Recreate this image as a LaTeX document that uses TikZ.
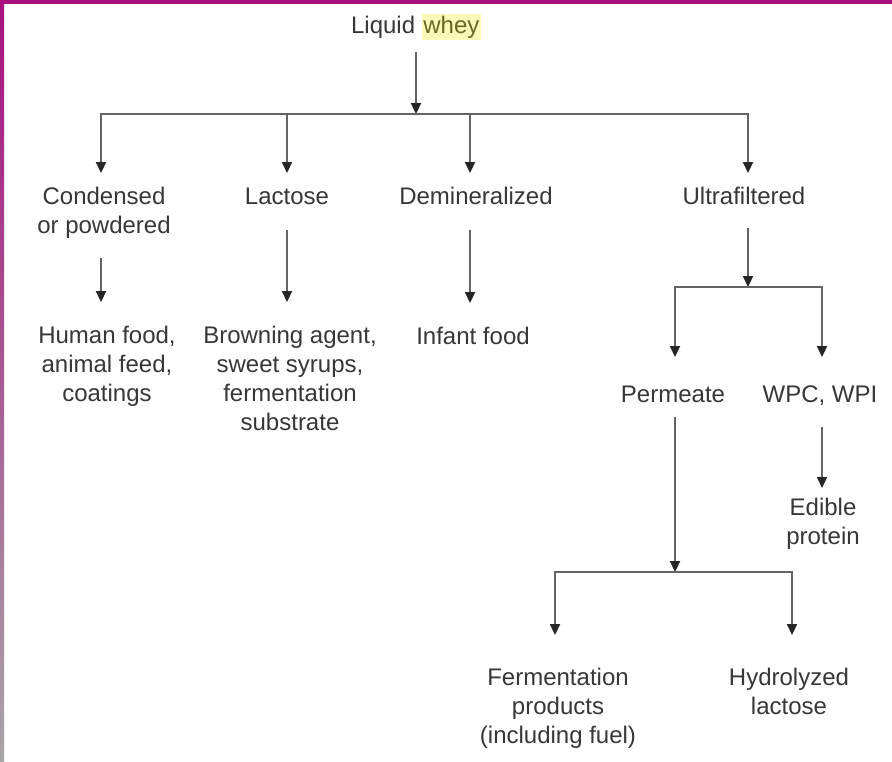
\documentclass[tikz,border=0pt]{standalone}
\usepackage{fontspec}
\setmainfont{Liberation Sans}
\usetikzlibrary{arrows.meta,calc}
\definecolor{mag}{RGB}{168,16,128}
\definecolor{magmid}{RGB}{176,90,150}
\definecolor{edgegray}{RGB}{168,166,168}
\definecolor{txt}{RGB}{55,55,55}
\definecolor{linegray}{RGB}{100,100,100}
\definecolor{hlbg}{RGB}{250,250,185}
\definecolor{hltxt}{RGB}{105,105,35}
\begin{document}
\begin{tikzpicture}[x=1pt,y=-1pt,
  lbl/.style={anchor=north,inner sep=0pt,align=center,text=txt,font=\fontsize{24}{29}\selectfont},
  tip/.style={},
  arr/.style={draw=linegray,line width=2.2pt,-{Triangle[length=11pt,width=10pt,color=black!85]}},
  arrtwo/.style={draw=linegray,line width=2.2pt,{Triangle[length=11pt,width=10pt,color=black!85]}-{Triangle[length=11pt,width=10pt,color=black!85]}}
]
\useasboundingbox (0,0) rectangle (892,761);
\fill[white] (0,0) rectangle (892,761);
\fill[mag] (0,0) rectangle (892,4);
\shade[top color=mag, middle color=magmid, bottom color=edgegray] (0,0) rectangle (4,761);

% nodes
\node[lbl] (whey) at (416,12.7) {\strut Liquid {\fboxsep=1.5pt\colorbox{hlbg}{\color{hltxt}whey}}};
\node[lbl] (cond) at (104,183.7) {\strut Condensed\\\strut or powdered};
\node[lbl] (lact) at (287,183.7) {\strut Lactose};
\node[lbl] (demin) at (476,183.7) {\strut Demineralized};
\node[lbl] (ultra) at (744,183.7) {\strut Ultrafiltered};
\node[lbl] (human) at (107,322.7) {\strut Human food,\\\strut animal feed,\\\strut coatings};
\node[lbl] (brown) at (290,322.7) {\strut Browning agent,\\\strut sweet syrups,\\\strut fermentation\\\strut substrate};
\node[lbl] (infant) at (473,323.7) {\strut Infant food};
\node[lbl] (perm) at (673,381.7) {\strut Permeate};
\node[lbl] (wpc) at (820,381.7) {\strut WPC, WPI};
\node[lbl] (edible) at (823,494.7) {\strut Edible\\\strut protein};
\node[lbl] (ferm) at (558,664.7) {\strut Fermentation\\\strut products\\\strut (including fuel)};
\node[lbl] (hydro) at (789,664.7) {\strut Hydrolyzed\\\strut lactose};

% junction coordinates
\coordinate (b1L) at (101,114);
\coordinate (b1a) at (287,114);
\coordinate (b1b) at (470,114);
\coordinate (b1R) at (748,114);
\coordinate (b2L) at (675,287);
\coordinate (b2M) at (748,287);
\coordinate (b2R) at (822,287);
\coordinate (b3L) at (555,572);
\coordinate (b3M) at (675,572);
\coordinate (b3R) at (792,572);

% level 0
\draw[arr] ($(whey.south)+(0,10)$) -- (whey.south |- b1L);
\draw[arrtwo] ($(cond.north -| b1L)+(0,-10.7)$) |- (b1R) -- ($(ultra.north -| b1R)+(0,-10.7)$);
\draw[arr] (b1a) -- ($(lact.north -| b1a)+(0,-10.7)$);
\draw[arr] (b1b) -- ($(demin.north -| b1b)+(0,-10.7)$);

% level 1 -> 2
\draw[arr] ($(cond.south -| b1L)+(0,16.3)$) -- ($(human.north -| b1L)+(0,-20.7)$);
\draw[arr] ($(lact.south -| b1a)+(0,17.3)$) -- ($(brown.north -| b1a)+(0,-20.7)$);
\draw[arr] ($(demin.south -| b1b)+(0,17.3)$) -- ($(infant.north -| b1b)+(0,-20.7)$);
\draw[arr] ($(ultra.south -| b1R)+(0,15.3)$) -- (b2M);

% ultrafiltered branch
\draw[arrtwo] ($(perm.north -| b2L)+(0,-24.7)$) |- (b2R) -- ($(wpc.north -| b2R)+(0,-24.7)$);
\draw[arr] ($(wpc.south -| b2R)+(0,16.3)$) -- ($(edible.north -| b2R)+(0,-6.7)$);
\draw[arr] ($(perm.south -| b2L)+(0,6.3)$) -- (b3M);

% permeate branch
\draw[arrtwo] ($(ferm.north -| b3L)+(0,-29.7)$) |- (b3R) -- ($(hydro.north -| b3R)+(0,-29.7)$);
\end{tikzpicture}
\end{document}
